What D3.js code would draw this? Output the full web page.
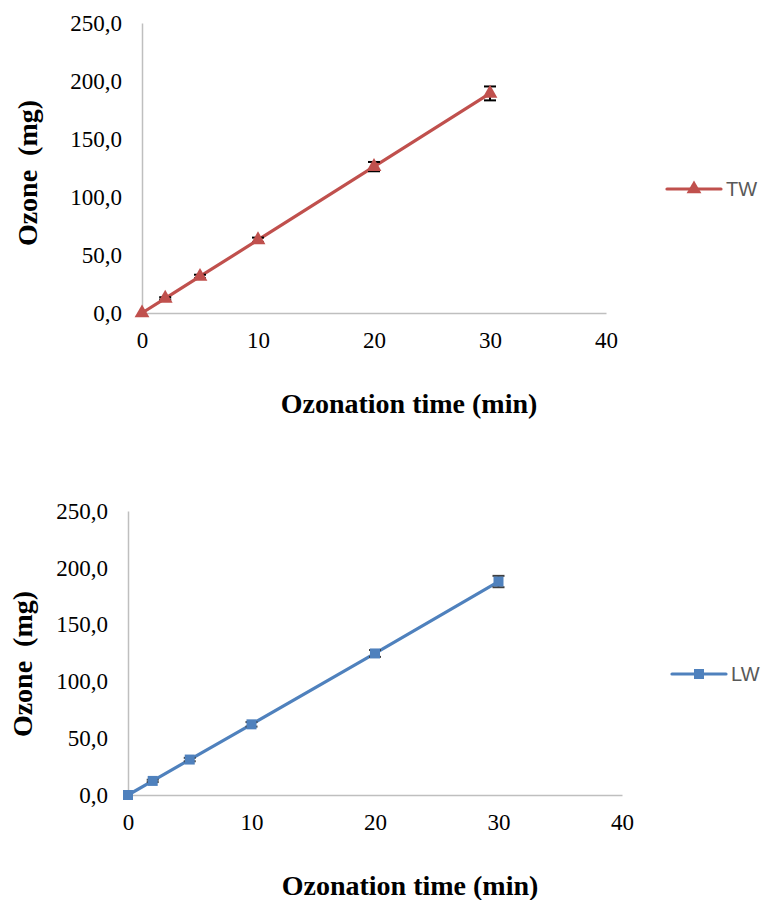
<!DOCTYPE html>
<html>
<head>
<meta charset="utf-8">
<script src="https://cdn.jsdelivr.net/npm/d3@7"></script>
<style>
  html, body { margin: 0; padding: 0; background: #fff; }
  svg { display: block; }
</style>
</head>
<body>
<svg id="chart" width="761" height="900"></svg>
<script>
// Ozonation time (min)
const times = [0, 2, 5, 10, 20, 30];
// Ozone delivered (mg), tap water
const tw = [0, 12.6, 31.5, 63.0, 126.2, 189.3];
const twErr = [0.5, 1.0, 1.5, 2.0, 4.0, 6.0];
// Ozone delivered (mg), lake water
const lw = [0, 12.4, 31.2, 62.2, 124.6, 187.9];
const lwErr = [0.5, 1.0, 1.5, 2.0, 3.0, 5.0];

const xTicks = [0, 10, 20, 30, 40];
const yTicks = [0, 50, 100, 150, 200, 250];

const svg = d3.select("#chart");
const fmtY = d => d3.format(".1f")(d).replace(".", ",");

function panel(cfg) {
  const g = svg.append("g");
  const x = d3.scaleLinear().domain([0, 40]).range([cfg.x0, cfg.x1]);
  const y = d3.scaleLinear().domain([0, 250]).range([cfg.y0, cfg.y1]);

  const yAxis = g.append("g")
    .attr("transform", `translate(${cfg.x0},0)`)
    .call(d3.axisLeft(y).tickValues(yTicks).tickFormat(fmtY)
      .tickSize(0).tickSizeOuter(0).tickPadding(20));
  const xAxis = g.append("g")
    .attr("transform", `translate(0,${cfg.y0})`)
    .call(d3.axisBottom(x).tickValues(xTicks).tickFormat(d3.format("d"))
      .tickSize(0).tickSizeOuter(0).tickPadding(19));
  [xAxis, yAxis].forEach(a => {
    a.select(".domain").attr("stroke", "#bfbfbf").attr("stroke-width", 1.5);
    a.selectAll("text").attr("font-family", "'Liberation Serif', 'Times New Roman', serif")
      .attr("font-size", 23).attr("fill", "#000");
  });

  // series line
  const pts = times.map((t, i) => ({ t, v: cfg.values[i], e: cfg.errors[i] }));
  g.append("path")
    .datum(pts)
    .attr("fill", "none")
    .attr("stroke", cfg.color)
    .attr("stroke-width", 3.2)
    .attr("stroke-linejoin", "round")
    .attr("d", d3.line().x(d => x(d.t)).y(d => y(d.v)));

  // error bars
  const eb = g.append("g").attr("stroke", cfg.errColor).attr("stroke-width", 2);
  pts.filter(d => d.t > 0).forEach(d => {
    const cx = x(d.t), top = y(d.v + d.e), bot = y(d.v - d.e);
    eb.append("line").attr("x1", cx).attr("x2", cx).attr("y1", top).attr("y2", bot);
    eb.append("line").attr("x1", cx - 6).attr("x2", cx + 6).attr("y1", top).attr("y2", top);
    eb.append("line").attr("x1", cx - 6).attr("x2", cx + 6).attr("y1", bot).attr("y2", bot);
  });

  // markers
  g.selectAll("path.mk")
    .data(pts)
    .join("path")
    .attr("class", "mk")
    .attr("transform", d => `translate(${x(d.t)},${y(d.v)})`)
    .attr("d", d3.symbol().type(cfg.symbol).size(cfg.symbolSize))
    .attr("fill", cfg.color);

  // legend
  const lg = g.append("g");
  lg.append("line")
    .attr("x1", cfg.legX).attr("x2", cfg.legX + 54)
    .attr("y1", cfg.legY).attr("y2", cfg.legY)
    .attr("stroke", cfg.color).attr("stroke-width", 3.2).attr("stroke-linecap", "round");
  lg.append("path")
    .attr("transform", `translate(${cfg.legX + 27},${cfg.legY})`)
    .attr("d", d3.symbol().type(cfg.symbol).size(cfg.symbolSize))
    .attr("fill", cfg.color);
  lg.append("text")
    .attr("x", cfg.legX + 59).attr("y", cfg.legY + 7)
    .attr("font-family", "'Liberation Sans', Arial, sans-serif")
    .attr("font-size", 20).attr("fill", "#595959")
    .text(cfg.name);

  // axis titles
  g.append("text")
    .attr("x", cfg.xTitleX).attr("y", cfg.xTitleY)
    .attr("text-anchor", "middle")
    .attr("font-family", "'Liberation Serif', 'Times New Roman', serif")
    .attr("font-weight", "bold").attr("font-size", 28)
    .text("Ozonation time (min)");
  g.append("text")
    .attr("transform", `translate(${cfg.yTitleX},${cfg.yTitleY}) rotate(-90)`)
    .attr("text-anchor", "middle")
    .attr("font-family", "'Liberation Serif', 'Times New Roman', serif")
    .attr("font-weight", "bold").attr("font-size", 28)
    .style("white-space", "pre")
    .text("Ozone  (mg)");
}

panel({
  x0: 142, x1: 606, y0: 313, y1: 23,
  values: tw, errors: twErr, name: "TW",
  color: "#c0504d", errColor: "#000",
  symbol: d3.symbolTriangle, symbolSize: 95,
  legX: 667, legY: 189,
  xTitleX: 409, xTitleY: 413,
  yTitleX: 37, yTitleY: 173
});

panel({
  x0: 128, x1: 622, y0: 795, y1: 511,
  values: lw, errors: lwErr, name: "LW",
  color: "#4f81bd", errColor: "#404040",
  symbol: d3.symbolSquare, symbolSize: 100,
  legX: 672, legY: 674,
  xTitleX: 410, xTitleY: 895,
  yTitleX: 32, yTitleY: 664
});
</script>
</body>
</html>
